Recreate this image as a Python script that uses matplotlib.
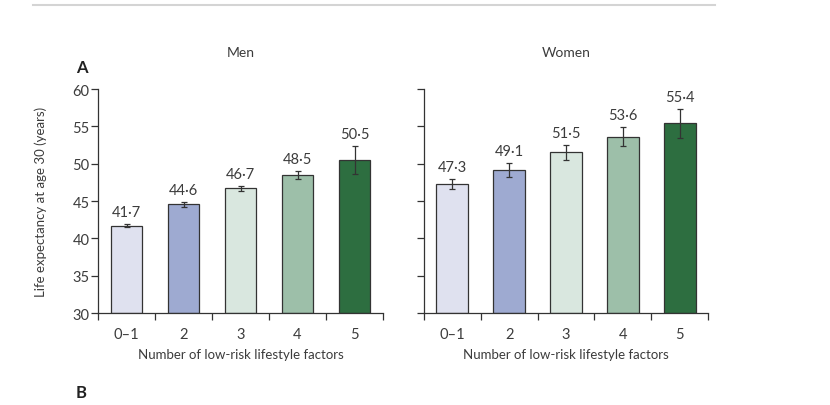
import matplotlib.pyplot as plt
from matplotlib.lines import Line2D

# data
categories = ['0–1', '2', '3', '4', '5']
men = [41.7, 44.6, 46.7, 48.5, 50.5]
men_err_lo = [0.2, 0.35, 0.3, 0.55, 1.9]
men_err_hi = [0.2, 0.3, 0.3, 0.55, 1.9]
women = [47.3, 49.1, 51.5, 53.6, 55.4]
women_err_lo = [0.65, 0.95, 1.0, 1.3, 1.95]
women_err_hi = [0.65, 0.95, 1.0, 1.3, 1.95]

bar_colors = ['#dfe1ef', '#9eaad1', '#d9e7df', '#9dbfa9', '#2d6e40']
txt = '#3c3c3c'

plt.rcParams['font.family'] = ['Lato', 'DejaVu Sans']
plt.rcParams['text.color'] = txt

fig = plt.figure(figsize=(8.3, 4.06), dpi=100)

# thin grey rule at the top of the page
fig.add_artist(Line2D([33 / 830, 715 / 830], [1 - 6 / 406, 1 - 6 / 406],
                      color='#d4d4d4', lw=1.5, transform=fig.transFigure))


def draw_panel(ax, vals, lo, hi, title, show_y):
    x = range(len(vals))
    ax.bar(x, [v - 30 for v in vals], bottom=30, width=0.56,
           color=bar_colors, edgecolor='#333333', linewidth=0.9, zorder=2)
    ax.errorbar(x, vals, yerr=[lo, hi], fmt='none', ecolor='#333333',
                elinewidth=0.9, capsize=2.5, capthick=0.9, zorder=3)
    for i, v in enumerate(vals):
        ax.annotate(f'{v:.1f}'.replace('.', '·'), (i, v + hi[i]),
                    xytext=(0, 3.5), textcoords='offset points',
                    ha='center', va='bottom', fontsize=10.5, color=txt)
    ax.set_xlim(-0.5, len(vals) - 0.5)
    ax.set_ylim(30, 60)
    ax.set_yticks(range(30, 61, 5))
    ax.set_xticks([i - 0.5 for i in range(len(vals) + 1)])
    ax.set_xticklabels([])
    ax.set_xticks(list(x), minor=True)
    ax.set_xticklabels(categories, minor=True)
    ax.tick_params(axis='x', which='minor', length=0, pad=10, labelsize=10.5,
                   colors=txt)
    ax.tick_params(axis='x', which='major', length=5, width=0.9, color='#333333')
    ax.tick_params(axis='y', length=5, width=0.9, color='#333333',
                   labelsize=10.5, labelcolor=txt, pad=1,
                   labelleft=show_y)
    for s in ['top', 'right']:
        ax.spines[s].set_visible(False)
    for s in ['left', 'bottom']:
        ax.spines[s].set_linewidth(0.9)
        ax.spines[s].set_color('#333333')
    ax.set_xlabel('Number of low-risk lifestyle factors', fontsize=9.5,
                  color=txt, labelpad=5)
    ax.set_title(title, fontsize=10, color=txt, pad=24)


ax1 = fig.add_axes([98 / 830, 1 - 314 / 406, 285 / 830, 224 / 406])
ax2 = fig.add_axes([424 / 830, 1 - 314 / 406, 284 / 830, 224 / 406])

draw_panel(ax1, men, men_err_lo, men_err_hi, 'Men', True)
draw_panel(ax2, women, women_err_lo, women_err_hi, 'Women', False)

ax1.set_ylabel('Life expectancy at age 30 (years)', fontsize=9.5, color=txt)
ax1.yaxis.set_label_coords(-0.18, 0.5)

fig.text(76 / 830, 1 - 68 / 406, 'A', fontsize=12, fontweight='bold',
         color='#222222', va='center', ha='left')
fig.text(76 / 830, 1 - 393 / 406, 'B', fontsize=12, fontweight='bold',
         color='#222222', va='center', ha='left')

fig.savefig('out.png', dpi=100, facecolor='white')
